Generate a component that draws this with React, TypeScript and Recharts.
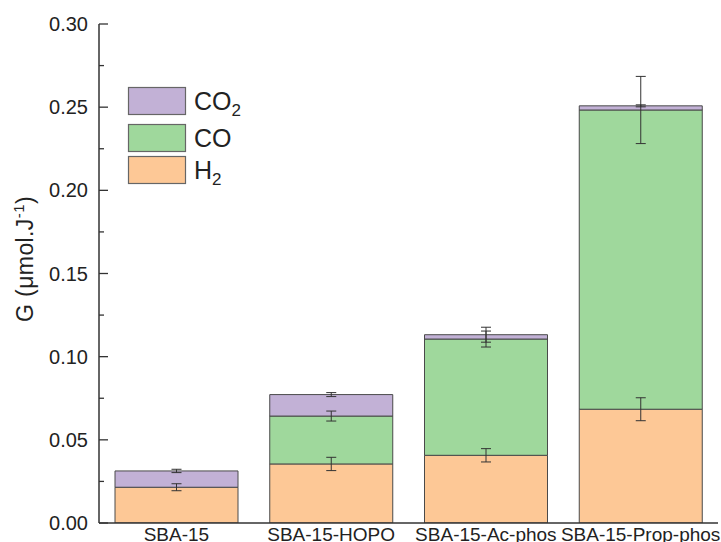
import { BarChart, Bar, XAxis, YAxis, ErrorBar } from "recharts";

// values
const categories = ["SBA-15", "SBA-15-HOPO", "SBA-15-Ac-phos", "SBA-15-Prop-phos"];
const h2 = [0.0215, 0.0355, 0.0407, 0.0684];
const h2Err = [0.0021, 0.004, 0.004, 0.0069];
const co = [0, 0.0288, 0.0699, 0.1799];
const coErr = [null, 0.003, 0.0048, 0.0202];
const co2 = [0.0098, 0.0129, 0.0026, 0.0025];
const co2Err = [0.001, 0.0012, 0.0045, 0.0006];
const yTicks = [0, 0.025, 0.05, 0.075, 0.1, 0.125, 0.15, 0.175, 0.2, 0.225, 0.25, 0.275, 0.3];

const colors = { h2: "#fdc896", co: "#9fd89c", co2: "#c2b1d6" };
const edge = "#4a4a4a";
const FONT = '"Liberation Sans", Arial, sans-serif';

const data = categories.map((name, i) => ({
  name,
  h2: h2[i],
  h2Err: h2Err[i],
  co: co[i],
  coErr: coErr[i],
  co2: co2[i],
  co2Err: co2Err[i],
}));

const W = 721;
const H = 542;
const margin = { top: 24, right: 3, bottom: 0, left: 0 };

function YTick({ x, y, payload }: any) {
  const v = payload.value as number;
  const major = Math.abs(v * 20 - Math.round(v * 20)) < 1e-6;
  return (
    <g>
      <line x1={x} x2={x + (major ? 9 : 5)} y1={y} y2={y} stroke="#333" strokeWidth={1.3} />
      {major && (
        <text x={x - 11} y={y} dy={7} textAnchor="end" fontSize={20} fill="#222" fontFamily={FONT}>
          {v.toFixed(2)}
        </text>
      )}
    </g>
  );
}

function YLabel() {
  return (
    <text
      x={33}
      y={259}
      transform="rotate(-90, 33, 259)"
      textAnchor="middle"
      fontSize={23}
      letterSpacing={0.4}
      fill="#222"
      fontFamily={FONT}
    >
      G (μmol.J
      <tspan fontSize={15} dy={-9}>-1</tspan>
      <tspan dy={9}>)</tspan>
    </text>
  );
}

const legendRows = [
  { key: "co2", label: "CO", sub: "2", top: 87 },
  { key: "co", label: "CO", sub: "", top: 124 },
  { key: "h2", label: "H", sub: "2", top: 156 },
];

function LegendBox() {
  return (
    <g fontFamily={FONT} fill="#222">
      {legendRows.map((r) => (
        <g key={r.key}>
          <rect
            x={128.5}
            y={r.top + 0.5}
            width={57}
            height={27}
            fill={(colors as any)[r.key]}
            stroke="#666"
            strokeWidth={1.2}
          />
          <text x={194} y={r.top + 22.5} fontSize={25} fill="#222">
            {r.label}
            {r.sub && (
              <tspan fontSize={17} dy={6}>
                {r.sub}
              </tspan>
            )}
          </text>
        </g>
      ))}
    </g>
  );
}

export default function App() {
  return (
    <div style={{ position: "absolute", left: 0, top: 0, width: W, height: H, background: "#fff" }}>
      <BarChart width={W} height={H} data={data} margin={margin} barSize={123}>
        <XAxis
          dataKey="name"
          xAxisId="bottom"
          height={19}
          tickLine={false}
          tickSize={0}
          tickMargin={5}
          axisLine={{ stroke: "#333", strokeWidth: 1.5 }}
          tick={{ fontSize: 19, fill: "#222", fontFamily: FONT }}
          interval={0}
        />
        <XAxis
          dataKey="name"
          xAxisId="top"
          orientation="top"
          height={0}
          tick={false}
          tickLine={false}
          axisLine={{ stroke: "#333", strokeWidth: 1.5 }}
        />
        <YAxis
          yAxisId="left"
          width={99}
          domain={[0, 0.3]}
          ticks={yTicks}
          interval={0}
          tickSize={0}
          tickMargin={0}
          tickLine={false}
          tick={<YTick />}
          axisLine={{ stroke: "#333", strokeWidth: 1.5 }}
          allowDataOverflow
        />
        <YAxis
          yAxisId="right"
          orientation="right"
          width={0}
          domain={[0, 0.3]}
          tick={false}
          tickLine={false}
          axisLine={{ stroke: "#333", strokeWidth: 1.5 }}
        />
        <Bar dataKey="h2" stackId="g" xAxisId="bottom" yAxisId="left" fill={colors.h2} stroke={edge} strokeWidth={1} isAnimationActive={false} />
        <Bar dataKey="co" stackId="g" xAxisId="bottom" yAxisId="left" fill={colors.co} stroke={edge} strokeWidth={1} isAnimationActive={false} />
        <Bar dataKey="co2" stackId="g" xAxisId="bottom" yAxisId="left" fill={colors.co2} stroke={edge} strokeWidth={1} isAnimationActive={false} />
        <YLabel />
        <LegendBox />
      </BarChart>
      {/* error bars in an overlay so that no stacked bar hides them */}
      <div style={{ position: "absolute", left: 0, top: 0 }}>
        <BarChart width={W} height={H} data={data} margin={{ top: 24, right: 3, bottom: 19, left: 99 }} barSize={123}>
          <XAxis dataKey="name" hide />
          <YAxis domain={[0, 0.3]} hide allowDataOverflow />
          <Bar dataKey="h2" stackId="g" fill="transparent" stroke="none" isAnimationActive={false}>
            <ErrorBar dataKey="h2Err" width={5} stroke="#333" strokeWidth={1} direction="y" />
          </Bar>
          <Bar dataKey="co" stackId="g" fill="transparent" stroke="none" isAnimationActive={false}>
            <ErrorBar dataKey="coErr" width={5} stroke="#333" strokeWidth={1} direction="y" />
          </Bar>
          <Bar dataKey="co2" stackId="g" fill="transparent" stroke="none" isAnimationActive={false}>
            <ErrorBar dataKey="co2Err" width={5} stroke="#333" strokeWidth={1} direction="y" />
          </Bar>
        </BarChart>
      </div>
    </div>
  );
}
